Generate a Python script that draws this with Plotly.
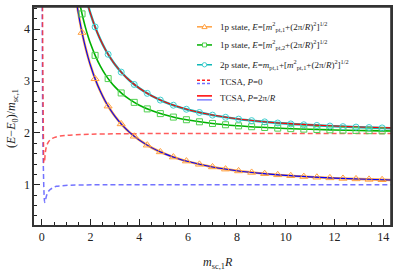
import plotly.graph_objects as go

# ---------------- data ----------------
# dense grid for the theoretical / TCSA P=2pi/R curves
R_line = [1.45, 1.5, 1.6, 1.7, 1.8, 1.9, 2.0, 2.2, 2.4, 2.6, 2.8, 3.0, 3.3, 3.6,
          4.0, 4.5, 5.0, 5.5, 6.0, 7.0, 8.0, 9.0, 10.0, 11.0, 12.0, 13.0, 14.0, 14.4]
E_1p1_line = [4.447, 4.307, 4.052, 3.829, 3.631, 3.455, 3.297, 3.026, 2.803, 2.615,
              2.457, 2.321, 2.151, 2.012, 1.862, 1.717, 1.606, 1.518, 1.448, 1.344,
              1.272, 1.220, 1.181, 1.152, 1.129, 1.111, 1.096, 1.091]
E_1p2_line = [4.768, 4.638, 4.402, 4.198, 4.018, 3.860, 3.719, 3.481, 3.289, 3.131,
              2.999, 2.889, 2.754, 2.647, 2.535, 2.431, 2.354, 2.295, 2.249, 2.183,
              2.139, 2.109, 2.087, 2.070, 2.058, 2.048, 2.040, 2.037]
E_2p_line = [5.447, 5.307, 5.052, 4.829, 4.631, 4.455, 4.297, 4.026, 3.803, 3.615,
             3.457, 3.321, 3.151, 3.012, 2.862, 2.717, 2.606, 2.518, 2.448, 2.344,
             2.272, 2.220, 2.181, 2.152, 2.129, 2.111, 2.096, 2.091]

# TCSA, P = 2pi/R (solid lines)
tcsa_p_blue = E_1p1_line
tcsa_p_red = [5.447, 5.307, 5.052, 4.829, 4.631, 4.455, 4.297, 4.026, 3.803, 3.615,
              3.457, 3.321, 3.151, 3.012, 2.862, 2.717, 2.606, 2.518, 2.449, 2.345,
              2.274, 2.222, 2.184, 2.156, 2.133, 2.116, 2.102, 2.098]

# marker positions
R_mark = [1.65, 2.185, 2.72, 3.255, 3.79, 4.325, 4.86, 5.395, 5.93, 6.465, 7.0,
          7.535, 8.07, 8.605, 9.14, 9.675, 10.21, 10.745, 11.28, 11.815, 12.35,
          12.885, 13.42, 13.955]
E_1p1_mark = [3.937, 3.045, 2.517, 2.174, 1.936, 1.764, 1.634, 1.535, 1.457, 1.395,
              1.344, 1.302, 1.267, 1.238, 1.214, 1.192, 1.174, 1.158, 1.145, 1.133,
              1.122, 1.113, 1.104, 1.097]
E_1p2_mark = [4.297, 3.497, 3.049, 2.772, 2.590, 2.464, 2.373, 2.306, 2.255, 2.215,
              2.183, 2.158, 2.137, 2.120, 2.105, 2.093, 2.083, 2.074, 2.067, 2.060,
              2.054, 2.049, 2.044, 2.040]
E_2p_mark = [4.937, 4.045, 3.517, 3.174, 2.936, 2.764, 2.634, 2.535, 2.457, 2.395,
             2.344, 2.302, 2.267, 2.238, 2.214, 2.192, 2.174, 2.158, 2.145, 2.133,
             2.122, 2.113, 2.104, 2.097]

# TCSA, P = 0 (dashed lines)
R_p0_blue = [0.018, 0.025, 0.035, 0.05, 0.07, 0.09, 0.12, 0.15, 0.2, 0.3, 0.45,
             0.6, 0.8, 1.1, 1.5, 2.5, 4.0, 6.0, 8.0, 10.0, 12.0, 14.4]
E_p0_blue = [4.45, 3.3, 2.4, 1.7, 1.2, 0.85, 0.66, 0.70, 0.80, 0.89, 0.94, 0.97,
             0.98, 0.99, 0.995, 1.0, 1.0, 1.0, 1.0, 1.0, 1.0, 1.0]
R_p0_red = [0.03, 0.04, 0.055, 0.07, 0.09, 0.11, 0.14, 0.18, 0.25, 0.35, 0.5, 0.75,
            1.0, 1.4, 2.0, 3.0, 4.0, 6.0, 8.0, 10.0, 12.0, 14.4]
E_p0_red = [4.45, 3.4, 2.5, 1.8, 1.42, 1.45, 1.6, 1.72, 1.81, 1.87, 1.91, 1.94,
            1.955, 1.965, 1.975, 1.983, 1.987, 1.99, 1.99, 1.99, 1.99, 1.99]

x_ticks = [0, 2, 4, 6, 8, 10, 12, 14]
y_ticks = [1, 2, 3, 4]

# ---------------- figure ----------------
FONT = "Liberation Serif"
ORANGE = "#ffa040"
GREEN = "#00b000"
GREEN_M = "#50d050"
CYAN = "#10b8b8"
CYAN_M = "#40d0d0"
X_RANGE = [-0.32, 14.32]
Y_RANGE = [0.224, 4.43]

fig = go.Figure()

def line(x, y, color, width, dash="solid", shape="spline"):
    fig.add_trace(go.Scatter(x=x, y=y, mode="lines",
                             line=dict(color=color, width=width, dash=dash, shape=shape),
                             showlegend=False, hoverinfo="skip"))

# theory lines
line(R_line, E_1p1_line, ORANGE, 2.4)
line(R_line, E_1p2_line, GREEN, 1.6)
line(R_line, E_2p_line, CYAN, 2.4)

# TCSA P=0 dashed
line(R_p0_blue, E_p0_blue, "rgba(80,80,255,0.8)", 1.5, dash="5px,3px")
line(R_p0_red, E_p0_red, "rgba(255,50,50,0.8)", 1.5, dash="5px,3px")

# TCSA P=2pi/R solid
line(R_line, tcsa_p_blue, "#0000ff", 1.1)
line(R_line, tcsa_p_red, "#ff0000", 1.1)

# markers
def marks(y, color, symbol, size):
    fig.add_trace(go.Scatter(x=R_mark, y=y, mode="markers",
                             marker=dict(symbol=symbol, size=size, color=color,
                                         line=dict(color=color, width=1)),
                             showlegend=False, hoverinfo="skip"))

marks(E_1p1_mark, ORANGE, "triangle-up-open", 7)
marks(E_1p2_mark, GREEN_M, "square-open", 6)
marks(E_2p_mark, CYAN_M, "circle-open", 6)

# ---------------- manual legend ----------------
L, T, W, H = 34, 5, 357, 220  # plot area in px
def px(xp):
    return (xp - L) / W
def py(yp):
    return (T + H - yp) / H

shapes = []
annots = []
sx0, sx1, smid = 197, 212, 204.5
rows = [25, 43.3, 63.3]
cols = [ORANGE, GREEN, CYAN]
mcols = [ORANGE, GREEN_M, CYAN_M]
for i, (ry, c, mc) in enumerate(zip(rows, cols, mcols)):
    shapes.append(dict(type="line", xref="paper", yref="paper",
                       x0=px(sx0), x1=px(sx1), y0=py(ry), y1=py(ry),
                       line=dict(color=c, width=1.5)))
    if i == 0:
        path = "M {:.4f},{:.4f} L {:.4f},{:.4f} L {:.4f},{:.4f} Z".format(
            px(smid - 2.6), py(ry + 1.8), px(smid + 2.6), py(ry + 1.8), px(smid), py(ry - 2.6))
        shapes.append(dict(type="path", xref="paper", yref="paper", path=path,
                           line=dict(color=mc, width=1), fillcolor="white"))
    elif i == 1:
        shapes.append(dict(type="rect", xref="paper", yref="paper",
                           x0=px(smid - 2), x1=px(smid + 2), y0=py(ry + 2), y1=py(ry - 2),
                           line=dict(color=mc, width=1), fillcolor="white"))
    else:
        shapes.append(dict(type="circle", xref="paper", yref="paper",
                           x0=px(smid - 2.2), x1=px(smid + 2.2), y0=py(ry + 2.2), y1=py(ry - 2.2),
                           line=dict(color=mc, width=1), fillcolor="white"))
# TCSA legend samples
for ry, c, d in [(79, "#ff2020", "3px,2px"), (82.3, "#7070ff", "3px,2px"),
                 (94.7, "#ff0000", "solid"), (98.7, "#8080ff", "solid")]:
    shapes.append(dict(type="line", xref="paper", yref="paper",
                       x0=px(sx0), x1=px(sx1), y0=py(ry), y1=py(ry),
                       line=dict(color=c, width=1.5, dash=d)))

# frame around the plot area (top and right sides)
FRAME = "#333"
shapes.append(dict(type="line", xref="paper", yref="paper", x0=0, x1=1, y0=1, y1=1,
                   line=dict(color=FRAME, width=1.6), layer="above"))
shapes.append(dict(type="line", xref="paper", yref="paper", x0=1, x1=1, y0=0, y1=1,
                   line=dict(color=FRAME, width=1.6), layer="above"))

legend_texts = [
    (24.5, "1p state, <i>E</i>=[<i>m</i><sup>2</sup><sub>pt,1</sub>+(2π/<i>R</i>)<sup>2</sup>]<sup>1/2</sup>"),
    (43.0, "1p state, <i>E</i>=[<i>m</i><sup>2</sup><sub>pt,2</sub>+(2π/<i>R</i>)<sup>2</sup>]<sup>1/2</sup>"),
    (63.0, "2p state, <i>E</i>=<i>m</i><sub>pt,1</sub>+[<i>m</i><sup>2</sup><sub>pt,1</sub>+(2π/<i>R</i>)<sup>2</sup>]<sup>1/2</sup>"),
    (81.0, "TCSA, <i>P</i>=0"),
    (97.0, "TCSA, <i>P</i>=2π/<i>R</i>"),
]
for ry, t in legend_texts:
    annots.append(dict(xref="paper", yref="paper", x=px(218), y=py(ry), text=t,
                       showarrow=False, xanchor="left", yanchor="middle",
                       font=dict(family=FONT, size=9, color="#222")))

# axis titles
annots.append(dict(xref="paper", yref="paper", x=px(218), y=py(263),
                   text="<i>m</i><sub>sc,1</sub><i>R</i>", showarrow=False,
                   xanchor="center", yanchor="middle",
                   font=dict(family=FONT, size=12, color="#222")))
annots.append(dict(xref="paper", yref="paper", x=px(12), y=py(118),
                   text="(<i>E</i>−<i>E</i><sub>0</sub>)/<i>m</i><sub>sc,1</sub>",
                   showarrow=False, textangle=-90, xanchor="center", yanchor="middle",
                   font=dict(family=FONT, size=12, color="#222")))

tick_common = dict(ticks="inside", ticklen=6, tickwidth=1, tickcolor="#222",
                   showgrid=False, zeroline=False)

axis_common = dict(showline=True, linecolor=FRAME, linewidth=1.6, mirror=True,
                   ticklabeloverflow="allow",
                   tickfont=dict(family=FONT, size=12, color="#222"), **tick_common)

x_minor = dict(ticks="inside", ticklen=3, dtick=0.5, tick0=0, tickcolor="#222", showgrid=False)
y_minor = dict(ticks="inside", ticklen=3, dtick=0.2, tick0=0, tickcolor="#222", showgrid=False)

fig.update_layout(
    width=399, height=277,
    margin=dict(l=L, r=399 - L - W, t=T, b=277 - T - H),
    paper_bgcolor="white", plot_bgcolor="white",
    showlegend=False,
    shapes=shapes, annotations=annots,
    xaxis=dict(range=X_RANGE, tickvals=x_ticks, ticktext=[str(v) for v in x_ticks],
               minor=x_minor, **axis_common),
    yaxis=dict(range=Y_RANGE, tickvals=y_ticks, ticktext=[str(v) for v in y_ticks],
               minor=y_minor, **axis_common),
    # mirrored axes on top / right carrying ticks only
    xaxis2=dict(range=X_RANGE, overlaying="x", side="top", anchor="y", visible=True,
                tickvals=x_ticks, showticklabels=False, minor=x_minor, **tick_common),
    yaxis2=dict(range=Y_RANGE, overlaying="y", side="right", anchor="x", visible=True,
                tickvals=y_ticks, showticklabels=False, minor=y_minor, **tick_common),
)

fig.write_html("out.html", config={"displayModeBar": False, "staticPlot": True},
               post_script="document.body.style.margin='0';document.body.style.padding='0';")
